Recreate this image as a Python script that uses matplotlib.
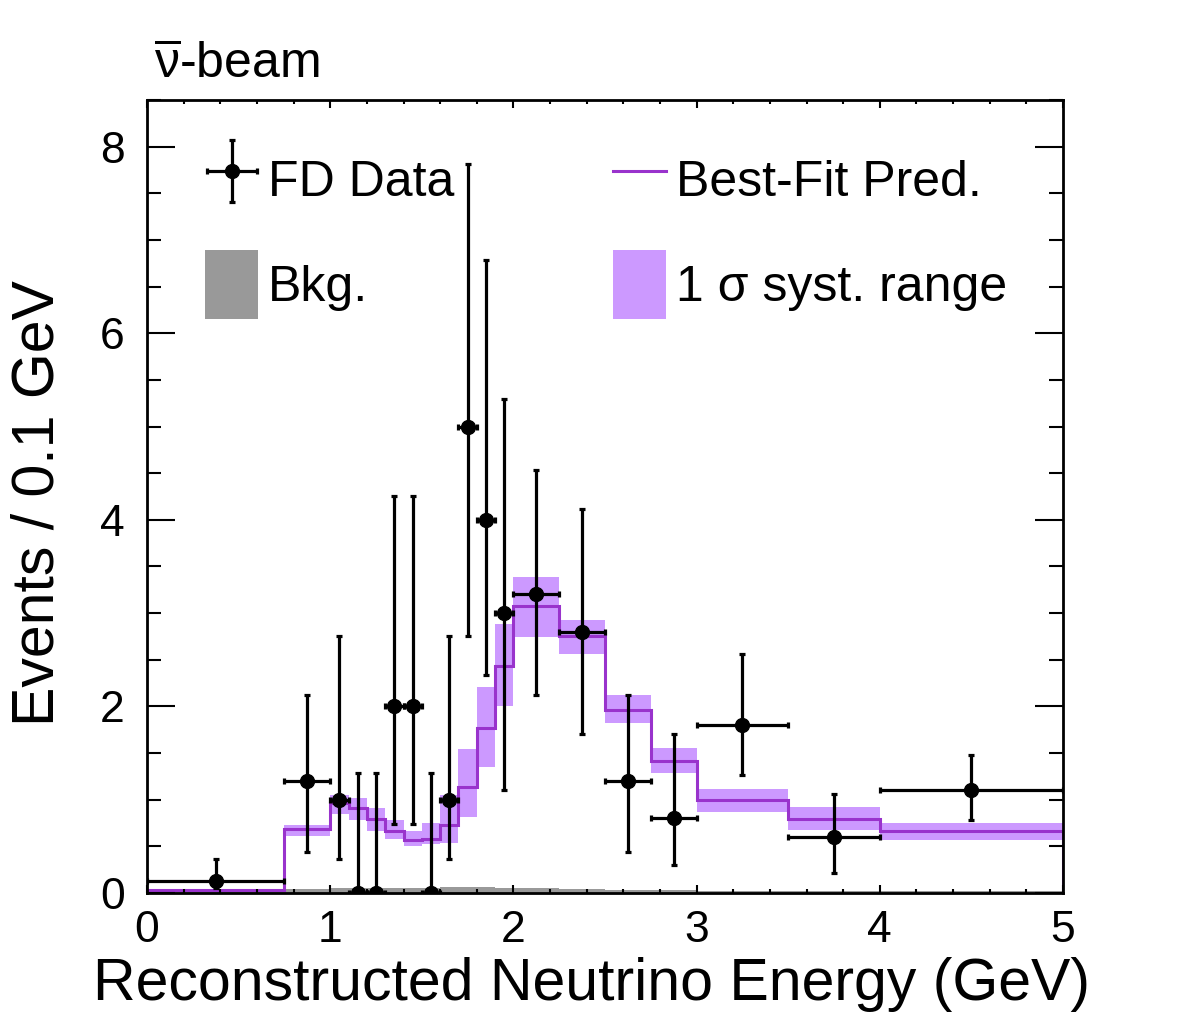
import numpy as np
import matplotlib
matplotlib.use('Agg')
import matplotlib.pyplot as plt
from matplotlib.lines import Line2D
from matplotlib.patches import Patch
from matplotlib.legend_handler import HandlerErrorbar
from matplotlib.ticker import MultipleLocator

plt.rcParams['font.family'] = ['Liberation Sans', 'DejaVu Sans']
plt.rcParams['mathtext.fontset'] = 'custom'
plt.rcParams['mathtext.rm'] = 'Liberation Sans'
plt.rcParams['mathtext.it'] = 'Liberation Sans:italic'

# Bin edges (GeV)
bin_edges = [0.0, 0.75, 1.0, 1.1, 1.2, 1.3, 1.4, 1.5, 1.6, 1.7, 1.8, 1.9, 2.0,
             2.25, 2.5, 2.75, 3.0, 3.5, 4.0, 5.0]

# Best-fit prediction, events / 0.1 GeV
pred = [0.03, 0.69, 0.96, 0.91, 0.79, 0.67, 0.57, 0.58, 0.73, 1.14, 1.77, 2.43,
        3.08, 2.76, 1.96, 1.42, 1.00, 0.79, 0.66]
# 1 sigma systematic band
syst_lo = [0.02, 0.61, 0.85, 0.78, 0.67, 0.58, 0.50, 0.53, 0.54, 0.82, 1.35, 2.00,
           2.74, 2.56, 1.82, 1.29, 0.87, 0.68, 0.57]
syst_hi = [0.04, 0.73, 1.05, 1.02, 0.91, 0.78, 0.66, 0.75, 1.05, 1.54, 2.21, 2.88,
           3.39, 2.93, 2.12, 1.55, 1.11, 0.92, 0.75]
# background
bkg = [0.01, 0.04, 0.05, 0.05, 0.05, 0.05, 0.05, 0.05, 0.06, 0.06, 0.06, 0.05,
       0.05, 0.04, 0.03, 0.03, 0.02, 0.02, 0.02]

# FD data, events / 0.1 GeV, with lower / upper interval
data_y = [0.13, 1.2, 1.0, 0.0, 0.0, 2.0, 2.0, 0.0, 1.0, 5.0, 4.0, 3.0,
          3.2, 2.8, 1.2, 0.8, 1.8, 0.6, 1.1]
data_lo = [0.05, 0.44, 0.37, 0.0, 0.0, 0.74, 0.74, 0.0, 0.37, 2.75, 2.34, 1.10,
           2.12, 1.70, 0.44, 0.30, 1.27, 0.22, 0.78]
data_hi = [0.37, 2.12, 2.75, 1.29, 1.29, 4.25, 4.25, 1.29, 2.75, 7.81, 6.78, 5.30,
           4.53, 4.12, 2.12, 1.70, 2.56, 1.06, 1.48]

purple = '#9933CC'
band = '#CC99FF'
grey = '#999999'

edges = np.array(bin_edges)
centers = 0.5 * (edges[:-1] + edges[1:])
halfw = 0.5 * np.diff(edges)
y = np.array(data_y)
yerr = [y - np.array(data_lo), np.array(data_hi) - y]

fig = plt.figure(figsize=(11.82, 10.17), dpi=100)
ax = fig.add_axes([0.1244, 0.1219, 0.7749, 0.7798])

ax.stairs(syst_hi, edges, baseline=syst_lo, fill=True, color=band, lw=0)
ax.stairs(bkg, edges, fill=True, color=grey, lw=0)
ax.stairs(pred, edges, color=purple, lw=2.2)
h_data = ax.errorbar(centers, y, xerr=halfw, yerr=yerr, fmt='o', color='black',
                     ms=10, elinewidth=2.3, capsize=2.5, capthick=2.3, zorder=5)

ax.set_xlim(0, 5)
ax.set_ylim(0, 8.5)
ax.xaxis.set_major_locator(MultipleLocator(1))
ax.xaxis.set_minor_locator(MultipleLocator(0.2))
ax.yaxis.set_major_locator(MultipleLocator(2))
ax.yaxis.set_minor_locator(MultipleLocator(0.5))
ax.tick_params(which='both', direction='in', top=True, right=True, width=1.5)
ax.tick_params(axis='x', which='major', length=6, labelsize=32, pad=12)
ax.tick_params(axis='x', which='minor', length=3)
ax.tick_params(axis='y', which='major', length=20, labelsize=32, pad=16)
ax.tick_params(axis='y', which='minor', length=10)
for s in ax.spines.values():
    s.set_linewidth(2)

ax.set_xlabel('Reconstructed Neutrino Energy (GeV)', fontsize=42.5)
ax.xaxis.set_label_coords(0.485, -0.081)
ax.set_ylabel('Events / 0.1 GeV', fontsize=42.5)
ax.yaxis.set_label_coords(-0.089, 0.492)
ax.text(0.008, 1.015, r'$\overline{\mathrm{\nu}}$-beam', transform=ax.transAxes,
        fontsize=36, ha='left', va='bottom')

h_bkg = Patch(color=grey, lw=0)
h_pred = Line2D([], [], color=purple, lw=2.2)
h_syst = Patch(color=band, lw=0)

kw = dict(loc='upper left', frameon=False, fontsize=36, borderpad=0,
          borderaxespad=0, handlelength=1.06, handleheight=1.75,
          handletextpad=0.2, labelspacing=0.72)
leg1 = ax.legend([h_data, h_bkg], ['FD Data', 'Bkg.'],
                 bbox_to_anchor=(0.0633, 0.943),
                 handler_map={type(h_data): HandlerErrorbar(xerr_size=0.5, yerr_size=0.62)},
                 **kw)
ax.add_artist(leg1)
ax.legend([h_pred, h_syst], ['Best-Fit Pred.', '1 σ syst. range'],
          bbox_to_anchor=(0.5087, 0.943), **kw)

fig.savefig('out.png', dpi=100)
